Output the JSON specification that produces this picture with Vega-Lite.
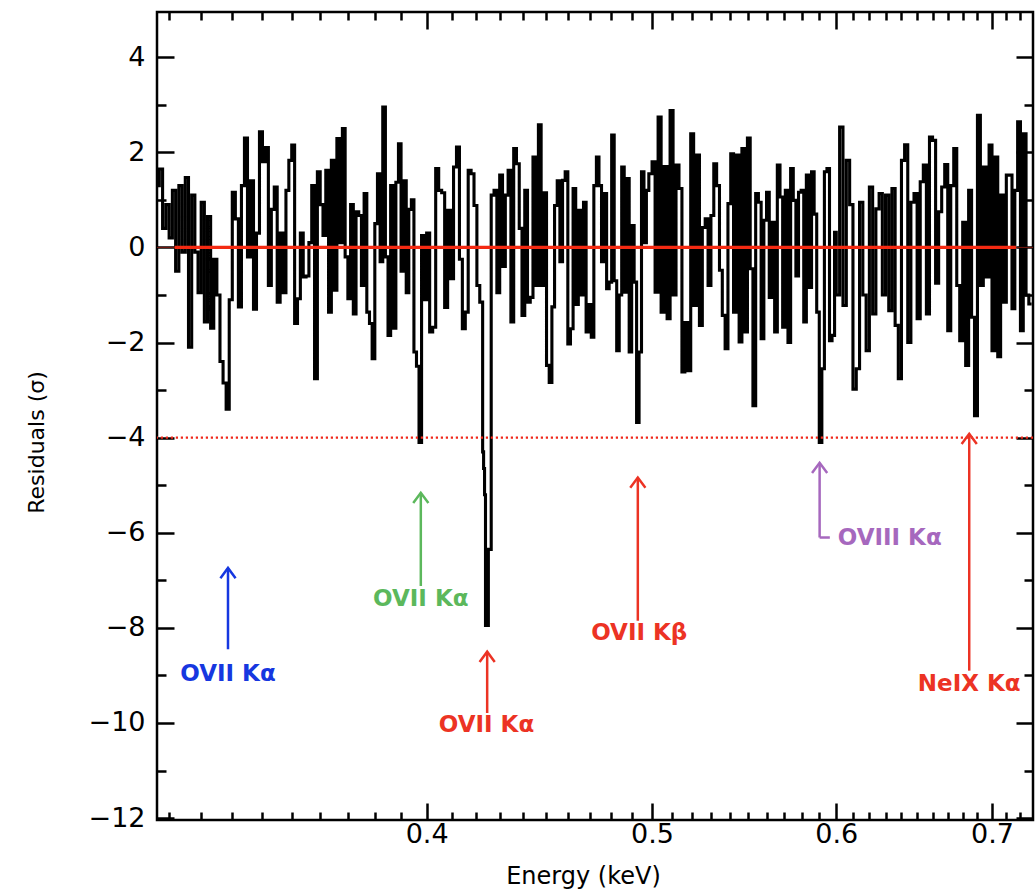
{
  "$schema": "https://vega.github.io/schema/vega-lite/v6.json",
  "width": 876,
  "height": 808,
  "autosize": "none",
  "padding": {"left": 157, "top": 12, "right": 3, "bottom": 74},
  "background": "white",
  "config": {"view": {"stroke": "black", "strokeWidth": 2.5}},
  "datasets": {
    "spec": [
      {"e":0.306,"r":1.3},{"e":0.307,"r":1.65},{"e":0.308,"r":0.4},{"e":0.309,"r":0.9},{"e":0.310,"r":0.2},
      {"e":0.311,"r":1.2},{"e":0.312,"r":-0.5},{"e":0.313,"r":1.3},{"e":0.314,"r":-0.1},{"e":0.315,"r":1.47},
      {"e":0.316,"r":-2.1},{"e":0.317,"r":1.1},{"e":0.318,"r":-0.1},{"e":0.319,"r":-0.95},{"e":0.320,"r":0.95},
      {"e":0.321,"r":-1.57},{"e":0.322,"r":0.65},{"e":0.323,"r":-1.7},{"e":0.324,"r":-0.25},{"e":0.325,"r":-1.0},
      {"e":0.326,"r":-2.4},{"e":0.327,"r":-2.85},{"e":0.328,"r":-3.4},{"e":0.329,"r":-1.1},{"e":0.330,"r":1.16},
      {"e":0.331,"r":0.6},{"e":0.332,"r":-1.25},{"e":0.333,"r":1.3},{"e":0.334,"r":2.3},{"e":0.335,"r":-0.2},
      {"e":0.336,"r":1.4},{"e":0.337,"r":-1.3},{"e":0.338,"r":0.3},{"e":0.339,"r":2.43},{"e":0.340,"r":1.8},
      {"e":0.341,"r":2.1},{"e":0.342,"r":-0.8},{"e":0.343,"r":0.8},{"e":0.344,"r":1.27},{"e":0.345,"r":-1.15},
      {"e":0.346,"r":0.3},{"e":0.347,"r":-0.95},{"e":0.348,"r":1.2},{"e":0.349,"r":1.83},{"e":0.350,"r":2.15},
      {"e":0.351,"r":-1.6},{"e":0.352,"r":-1.08},{"e":0.353,"r":0.3},{"e":0.354,"r":-0.62},{"e":0.355,"r":-0.6},
      {"e":0.356,"r":0.1},{"e":0.357,"r":1.3},{"e":0.358,"r":-2.76},{"e":0.359,"r":1.59},{"e":0.360,"r":0.9},
      {"e":0.361,"r":0.25},{"e":0.362,"r":1.62},{"e":0.363,"r":-1.36},{"e":0.364,"r":1.83},{"e":0.365,"r":-0.9},
      {"e":0.366,"r":2.29},{"e":0.367,"r":0.1},{"e":0.368,"r":2.5},{"e":0.369,"r":-0.2},{"e":0.370,"r":-1.08},
      {"e":0.371,"r":0.9},{"e":0.372,"r":-1.4},{"e":0.373,"r":0.75},{"e":0.374,"r":0.67},{"e":0.375,"r":-0.8},
      {"e":0.376,"r":1.13},{"e":0.377,"r":-1.36},{"e":0.378,"r":-1.6},{"e":0.379,"r":-2.34},{"e":0.380,"r":0.5},
      {"e":0.381,"r":1.55},{"e":0.382,"r":-0.3},{"e":0.383,"r":2.95},{"e":0.384,"r":-0.2},{"e":0.385,"r":-1.85},
      {"e":0.386,"r":1.3},{"e":0.387,"r":-1.7},{"e":0.388,"r":1.37},{"e":0.389,"r":2.18},{"e":0.390,"r":-0.5},
      {"e":0.391,"r":1.4},{"e":0.392,"r":-0.95},{"e":0.393,"r":0.8},{"e":0.394,"r":1.0},{"e":0.395,"r":-2.2},
      {"e":0.396,"r":-2.5},{"e":0.397,"r":-4.1},{"e":0.398,"r":0.25},{"e":0.399,"r":-1.1},
      {"e":0.4000,"r":0.3},{"e":0.4012,"r":-1.78},{"e":0.4024,"r":-1.68},{"e":0.4036,"r":1.66},{"e":0.4048,"r":1.2},
      {"e":0.4060,"r":1.15},{"e":0.4072,"r":-1.26},{"e":0.4084,"r":0.78},{"e":0.4096,"r":-0.66},{"e":0.4108,"r":1.69},
      {"e":0.4120,"r":2.11},{"e":0.4132,"r":-0.25},{"e":0.4144,"r":-1.71},{"e":0.4156,"r":-1.36},{"e":0.4168,"r":1.62},
      {"e":0.4180,"r":1.55},{"e":0.4192,"r":0.88},{"e":0.4204,"r":-0.8},{"e":0.4216,"r":-1.15},{"e":0.4228,"r":-4.3},
      {"e":0.4232,"r":-4.65},{"e":0.4236,"r":-5.2},{"e":0.4240,"r":-7.95},{"e":0.4252,"r":-6.35},{"e":0.4264,"r":1.1},
      {"e":0.4276,"r":1.2},{"e":0.4288,"r":-0.95},{"e":0.4300,"r":1.52},{"e":0.4312,"r":-0.4},{"e":0.4324,"r":1.1},
      {"e":0.4336,"r":1.62},{"e":0.4348,"r":-1.57},{"e":0.4360,"r":2.08},{"e":0.4372,"r":1.76},{"e":0.4384,"r":0.4},
      {"e":0.4396,"r":-1.43},{"e":0.4408,"r":1.2},{"e":0.4420,"r":-1.15},{"e":0.4432,"r":-1.05},{"e":0.4444,"r":1.9},
      {"e":0.4456,"r":-0.8},{"e":0.4468,"r":2.58},{"e":0.4480,"r":-0.8},{"e":0.4492,"r":1.15},{"e":0.4504,"r":-2.48},
      {"e":0.4516,"r":-2.84},{"e":0.4528,"r":-1.25},{"e":0.4540,"r":0.88},{"e":0.4552,"r":1.4},{"e":0.4564,"r":-0.3},
      {"e":0.4576,"r":1.41},{"e":0.4588,"r":1.59},{"e":0.4600,"r":-2.03},{"e":0.4612,"r":-1.71},{"e":0.4624,"r":1.24},
      {"e":0.4636,"r":-1.2},{"e":0.4648,"r":0.78},{"e":0.4660,"r":-1.0},{"e":0.4672,"r":0.95},{"e":0.4684,"r":-1.78},
      {"e":0.4696,"r":-1.2},{"e":0.4708,"r":-1.89},{"e":0.4720,"r":1.3},{"e":0.4732,"r":1.9},{"e":0.4744,"r":1.3},
      {"e":0.4756,"r":-0.3},{"e":0.4768,"r":1.13},{"e":0.4780,"r":-0.87},{"e":0.4792,"r":-0.73},{"e":0.4804,"r":2.36},
      {"e":0.4816,"r":-0.7},{"e":0.4828,"r":-2.17},{"e":0.4840,"r":-1.0},{"e":0.4852,"r":1.69},{"e":0.4864,"r":-0.94},
      {"e":0.4876,"r":1.45},{"e":0.4888,"r":-2.2},{"e":0.4900,"r":0.46},{"e":0.4912,"r":-0.73},{"e":0.4924,"r":-3.68},
      {"e":0.4936,"r":-2.2},{"e":0.4948,"r":1.59},{"e":0.4960,"r":0.1},{"e":0.4972,"r":1.2},{"e":0.4984,"r":1.55},
      {"e":0.5000,"r":1.8},{"e":0.5015,"r":-0.94},{"e":0.5030,"r":2.74},{"e":0.5045,"r":-1.36},{"e":0.5060,"r":1.7},
      {"e":0.5075,"r":-1.5},{"e":0.5090,"r":2.88},{"e":0.5105,"r":-1.0},{"e":0.5120,"r":1.73},{"e":0.5135,"r":1.24},
      {"e":0.5150,"r":-2.62},{"e":0.5165,"r":-1.58},{"e":0.5180,"r":-2.59},{"e":0.5195,"r":2.39},{"e":0.5210,"r":-1.22},
      {"e":0.5225,"r":1.94},{"e":0.5240,"r":-1.64},{"e":0.5255,"r":0.42},{"e":0.5270,"r":0.6},{"e":0.5285,"r":-0.8},
      {"e":0.5300,"r":0.67},{"e":0.5315,"r":1.76},{"e":0.5330,"r":1.3},{"e":0.5345,"r":-0.48},{"e":0.5360,"r":-1.43},
      {"e":0.5375,"r":-2.13},{"e":0.5390,"r":0.92},{"e":0.5405,"r":1.97},{"e":0.5420,"r":-1.36},{"e":0.5435,"r":1.94},
      {"e":0.5450,"r":-1.99},{"e":0.5465,"r":2.08},{"e":0.5480,"r":-1.78},{"e":0.5495,"r":2.3},{"e":0.5510,"r":-0.45},
      {"e":0.5525,"r":-3.33},{"e":0.5540,"r":1.13},{"e":0.5555,"r":0.95},{"e":0.5570,"r":-1.92},{"e":0.5585,"r":0.57},
      {"e":0.5600,"r":1.16},{"e":0.5615,"r":-1.05},{"e":0.5630,"r":0.53},{"e":0.5645,"r":-1.78},{"e":0.5660,"r":1.73},
      {"e":0.5675,"r":1.06},{"e":0.5690,"r":-1.68},{"e":0.5705,"r":1.2},{"e":0.5720,"r":-2.0},{"e":0.5735,"r":1.66},
      {"e":0.5750,"r":0.99},{"e":0.5765,"r":-0.6},{"e":0.5780,"r":1.16},{"e":0.5795,"r":1.2},{"e":0.5810,"r":-1.57},
      {"e":0.5825,"r":1.52},{"e":0.5840,"r":-0.84},{"e":0.5855,"r":1.59},{"e":0.5870,"r":0.7},{"e":0.5885,"r":-1.36},
      {"e":0.5900,"r":-4.1},{"e":0.5915,"r":-2.55},{"e":0.5930,"r":1.59},{"e":0.5945,"r":1.66},{"e":0.5960,"r":-1.96},
      {"e":0.5975,"r":-1.85},{"e":0.5990,"r":0.32},
      {"e":0.600,"r":-1.0},{"e":0.602,"r":2.53},{"e":0.604,"r":-1.22},{"e":0.606,"r":1.83},{"e":0.608,"r":0.9},
      {"e":0.610,"r":-2.98},{"e":0.612,"r":-2.55},{"e":0.614,"r":0.95},{"e":0.616,"r":-1.0},{"e":0.618,"r":-2.17},
      {"e":0.620,"r":1.27},{"e":0.622,"r":-1.4},{"e":0.624,"r":0.81},{"e":0.626,"r":1.13},{"e":0.628,"r":-1.0},
      {"e":0.630,"r":1.1},{"e":0.632,"r":-1.33},{"e":0.634,"r":1.24},{"e":0.636,"r":-1.64},{"e":0.638,"r":-2.76},
      {"e":0.640,"r":1.83},{"e":0.642,"r":2.16},{"e":0.644,"r":-2.0},{"e":0.646,"r":0.95},{"e":0.648,"r":1.13},
      {"e":0.650,"r":-1.5},{"e":0.652,"r":1.38},{"e":0.654,"r":1.73},{"e":0.656,"r":-1.4},{"e":0.658,"r":2.32},
      {"e":0.660,"r":2.25},{"e":0.662,"r":-0.75},{"e":0.664,"r":0.75},{"e":0.666,"r":1.27},{"e":0.668,"r":1.74},
      {"e":0.670,"r":-1.75},{"e":0.672,"r":1.3},{"e":0.674,"r":2.08},{"e":0.676,"r":-0.8},{"e":0.678,"r":-1.96},
      {"e":0.680,"r":0.53},{"e":0.682,"r":-2.48},{"e":0.684,"r":1.2},{"e":0.686,"r":-1.47},{"e":0.688,"r":-3.54},
      {"e":0.690,"r":2.78},{"e":0.692,"r":-0.8},{"e":0.694,"r":1.69},{"e":0.696,"r":-0.62},{"e":0.698,"r":2.15},
      {"e":0.700,"r":-2.17},{"e":0.702,"r":1.9},{"e":0.704,"r":-2.3},{"e":0.706,"r":1.1},{"e":0.708,"r":-1.15},
      {"e":0.710,"r":1.52},{"e":0.712,"r":1.52},{"e":0.714,"r":-1.29},{"e":0.716,"r":1.2},{"e":0.718,"r":2.64},
      {"e":0.720,"r":-1.75},{"e":0.722,"r":2.39},{"e":0.724,"r":-1.0},{"e":0.726,"r":-1.19},{"e":0.728,"r":-1.19}
    ],
    "ann": [
      {"name":"OVII Kα","grp":"blue","e":0.3286,"tip":-6.74,"tail":-8.45,"le":0.3286,"ly":-8.97},
      {"name":"OVII Kα","grp":"green","e":0.3977,"tip":-5.16,"tail":-7.12,"le":0.3977,"ly":-7.39},
      {"name":"OVII Kα","grp":"red","e":0.4247,"tip":-8.5,"tail":-9.79,"le":0.4244,"ly":-10.04},
      {"name":"OVII Kβ","grp":"red","e":0.4930,"tip":-4.84,"tail":-7.85,"le":0.4937,"ly":-8.1},
      {"name":"OVIII Kα","grp":"purple","e":0.5902,"tip":-4.53,"tail":-6.1,"le":0.6326,"ly":-6.1},
      {"name":"NeIX Kα","grp":"red","e":0.6844,"tip":-3.92,"tail":-8.9,"le":0.6844,"ly":-9.18}
    ],
    "hook": [
      {"e0":0.5902,"e1":0.5962,"y":-6.1}
    ],
    "one": [
      {"zero": 0, "floor": -4, "m0": 0.3117, "m1": 0.7168}
    ]
  },
  "layer": [
    {
      "data": {"name": "spec"},
      "mark": {"type": "line", "interpolate": "step-after", "color": "black", "strokeWidth": 3.1},
      "encoding": {
        "x": {
          "field": "e", "type": "quantitative",
          "scale": {"type": "log", "domain": [0.3063, 0.729], "nice": false, "zero": false},
          "axis": {
            "orient": "bottom",
            "values": [0.31,0.32,0.33,0.34,0.35,0.36,0.37,0.38,0.39,0.4,0.41,0.42,0.43,0.44,0.45,0.46,0.47,0.48,0.49,0.5,0.51,0.52,0.53,0.54,0.55,0.56,0.57,0.58,0.59,0.6,0.61,0.62,0.63,0.64,0.65,0.66,0.67,0.68,0.69,0.7,0.71,0.72],
            "format": ".1f",
            "labelExpr": "abs(datum.value*10-round(datum.value*10))<1e-6 ? datum.label : ''",
            "tickSize": {"condition": {"test": "abs(datum.value*10-round(datum.value*10))<1e-6", "value": -17}, "value": -8},
            "tickWidth": 2.5, "tickColor": "black",
            "domain": false, "grid": false,
            "labelFont": "DejaVu Sans", "labelFontSize": 27, "labelColor": "black",
            "labelPadding": 18, "labelFlush": false, "labelOverlap": false, "labelBound": false,
            "title": "Energy (keV)", "titleFont": "DejaVu Sans", "titleFontSize": 24, "titleFontWeight": "normal", "titleColor": "black", "titlePadding": 8,
            "titleX": 426
          }
        },
        "y": {
          "field": "r", "type": "quantitative",
          "scale": {"domain": [-12.04, 4.95], "nice": false, "zero": false},
          "axis": {
            "orient": "left",
            "values": [-12,-11,-10,-9,-8,-7,-6,-5,-4,-3,-2,-1,0,1,2,3,4],
            "format": "d",
            "labelExpr": "datum.value % 2 === 0 ? datum.label : ''",
            "tickSize": {"condition": {"test": "datum.value % 2 === 0", "value": -17}, "value": -9},
            "tickWidth": 2.5, "tickColor": "black",
            "domain": false, "grid": false,
            "labelFont": "DejaVu Sans", "labelFontSize": 27, "labelColor": "black",
            "labelPadding": 29, "labelFlush": false, "labelOverlap": false, "labelBound": false,
            "title": "Residuals (σ)", "titleFont": "DejaVu Sans", "titleFontSize": 22, "titleFontWeight": "normal", "titleColor": "black", "titlePadding": 40,
            "titleY": 430
          }
        }
      }
    },
    {
      "data": {"name": "one"},
      "mark": {"type": "rule", "color": "#7a1a10", "strokeWidth": 1},
      "encoding": {"y": {"field": "zero", "type": "quantitative", "axis": null}}
    },
    {
      "data": {"name": "one"},
      "mark": {"type": "rule", "color": "#f0281a", "strokeWidth": 2.2, "strokeDash": [2.2, 2.8]},
      "encoding": {"y": {"field": "floor", "type": "quantitative", "axis": null}}
    },
    {
      "data": {"name": "one"},
      "mark": {"type": "rule", "color": "#f42a12", "strokeWidth": 3.3},
      "encoding": {
        "x": {"field": "m0", "type": "quantitative", "axis": null},
        "x2": {"field": "m1"},
        "y": {"field": "zero", "type": "quantitative", "axis": null}
      }
    },
    {
      "data": {"name": "ann"},
      "mark": {"type": "rule", "strokeWidth": 2.5},
      "encoding": {
        "x": {
          "field": "e", "type": "quantitative",
          "axis": {
            "orient": "top",
            "values": [0.31,0.32,0.33,0.34,0.35,0.36,0.37,0.38,0.39,0.4,0.41,0.42,0.43,0.44,0.45,0.46,0.47,0.48,0.49,0.5,0.51,0.52,0.53,0.54,0.55,0.56,0.57,0.58,0.59,0.6,0.61,0.62,0.63,0.64,0.65,0.66,0.67,0.68,0.69,0.7,0.71,0.72],
            "labels": false,
            "tickSize": {"condition": {"test": "abs(datum.value*10-round(datum.value*10))<1e-6", "value": -17}, "value": -8},
            "tickWidth": 2.5, "tickColor": "black",
            "domain": false, "grid": false, "title": null
          }
        },
        "y": {
          "field": "tip", "type": "quantitative",
          "axis": {
            "orient": "right",
            "values": [-12,-11,-10,-9,-8,-7,-6,-5,-4,-3,-2,-1,0,1,2,3,4],
            "labels": false,
            "tickSize": {"condition": {"test": "datum.value % 2 === 0", "value": -17}, "value": -9},
            "tickWidth": 2.5, "tickColor": "black",
            "domain": false, "grid": false, "title": null
          }
        },
        "y2": {"field": "tail"},
        "color": {
          "field": "grp", "type": "nominal", "legend": null,
          "scale": {"domain": ["blue", "green", "red", "purple"], "range": ["#1637e0", "#5cb85c", "#ec3324", "#a668be"]}
        }
      }
    },
    {
      "data": {"name": "ann"},
      "mark": {"type": "point", "shape": "M-1,1.35L0,0L1,1.35", "filled": false, "size": 230, "strokeWidth": 2.5, "opacity": 1},
      "encoding": {
        "x": {"field": "e", "type": "quantitative", "axis": null},
        "y": {"field": "tip", "type": "quantitative", "axis": null},
        "color": {"field": "grp", "type": "nominal", "legend": null}
      }
    },
    {
      "data": {"name": "hook"},
      "mark": {"type": "rule", "strokeWidth": 2.5, "color": "#a668be"},
      "encoding": {
        "x": {"field": "e0", "type": "quantitative", "axis": null},
        "x2": {"field": "e1"},
        "y": {"field": "y", "type": "quantitative", "axis": null}
      }
    },
    {
      "data": {"name": "ann"},
      "mark": {"type": "text", "font": "DejaVu Sans", "fontWeight": "bold", "fontSize": 23, "align": "center", "baseline": "middle"},
      "encoding": {
        "x": {"field": "le", "type": "quantitative", "axis": null},
        "y": {"field": "ly", "type": "quantitative", "axis": null},
        "text": {"field": "name"},
        "color": {"field": "grp", "type": "nominal", "legend": null}
      }
    }
  ],
  "resolve": {"axis": {"x": "independent", "y": "independent"}}
}
